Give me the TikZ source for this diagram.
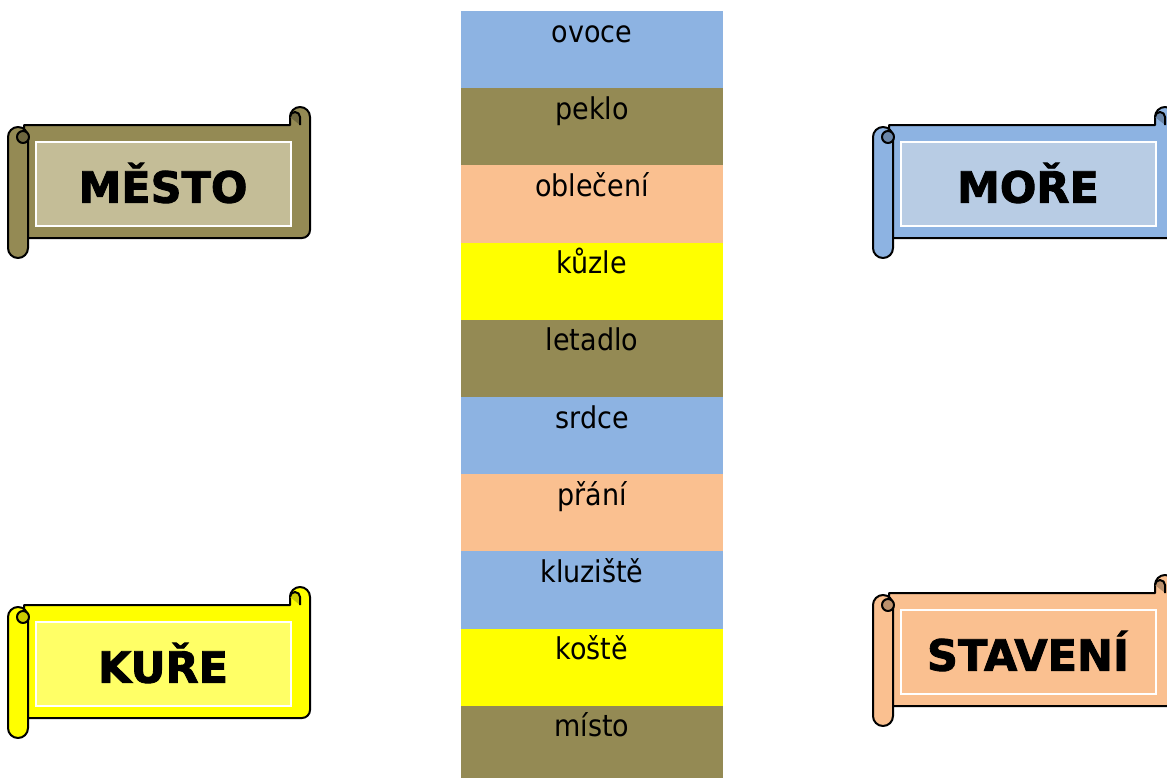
\documentclass[tikz,border=0pt]{standalone}
\usepackage{fontspec}
\setmainfont{DejaVu Sans}
\newfontfamily\wordfont{DejaVu Sans Condensed}
\newfontfamily\signfont[FakeBold=2]{DejaVu Sans Bold}

\definecolor{scOlive}{HTML}{948A54}
\definecolor{scBlue}{HTML}{8DB3E2}
\definecolor{scPeach}{HTML}{FAC090}
\definecolor{scYellow}{HTML}{FFFF00}
\definecolor{scOliveLight}{HTML}{C4BD97}
\definecolor{scBlueLight}{HTML}{B8CCE4}
\definecolor{scYellowLight}{HTML}{FFFF66}

\tikzset{
    scrollline/.style={draw=black,line width=2pt,line join=round},
    scrollinner/.style={draw=white,line width=1.5pt},
    scrolllabel/.style={font=\signfont\fontsize{43}{43}\selectfont,text=black},
    rowlabel/.style={font=\wordfont\fontsize{30}{30}\selectfont,text=black,anchor=base}
}

% #1 shift, #2 body, #3 inner, #4 curl, #5 name, #6 text
\newcommand\scrollsign[6]{%
    \begin{scope}[shift={#1}]
        \draw[scrollline,fill=#2](24,125)--(290,125)--(290,117)
            arc[start angle=180,end angle=360,radius=10]--(310,230)
            arc[start angle=0,end angle=90,radius=8]--(24,238)--cycle;
        \draw[scrollline,fill=#4](290,117)arc[start angle=180,end angle=360,radius=5]--(300,125);
        \draw[scrollline,fill=#2,rounded corners=10pt](8,127)rectangle(28,258);
        \draw[scrollline,fill=#4](23,137)circle[radius=6];
        \draw[scrollinner,fill=#3](36,142)rectangle(291,226);
        \node[scrolllabel](#5)at(163,183){#6};
    \end{scope}
}

\begin{document}
\begin{tikzpicture}[x=1pt,y=-1pt]
    \useasboundingbox(0,0)rectangle(1167,777);
    \clip(0,0)rectangle(1167,777);

    % word column
    \foreach \word/\col [count=\i from 0] in {ovoce/scBlue,peklo/scOlive,oblečení/scPeach,kůzle/scYellow,letadlo/scOlive,srdce/scBlue,přání/scPeach,kluziště/scBlue,koště/scYellow,místo/scOlive}{
        \fill[\col](461,11+77.2*\i)rectangle(723,88.2+77.2*\i);
        \node[rowlabel](row\i)at(592,42+77.2*\i){\word};
    }

    % scrolls
    \scrollsign{(0,0)}{scOlive}{scOliveLight}{scOlive!75!black}{mesto}{MĚSTO}
    \scrollsign{(865,0)}{scBlue}{scBlueLight}{scBlue!75!black}{more}{MOŘE}
    \scrollsign{(0,480)}{scYellow}{scYellowLight}{scYellow!80!black}{kure}{KUŘE}
    \scrollsign{(865,468)}{scPeach}{scPeach}{scPeach!75!black}{staveni}{STAVENÍ}
\end{tikzpicture}
\end{document}
